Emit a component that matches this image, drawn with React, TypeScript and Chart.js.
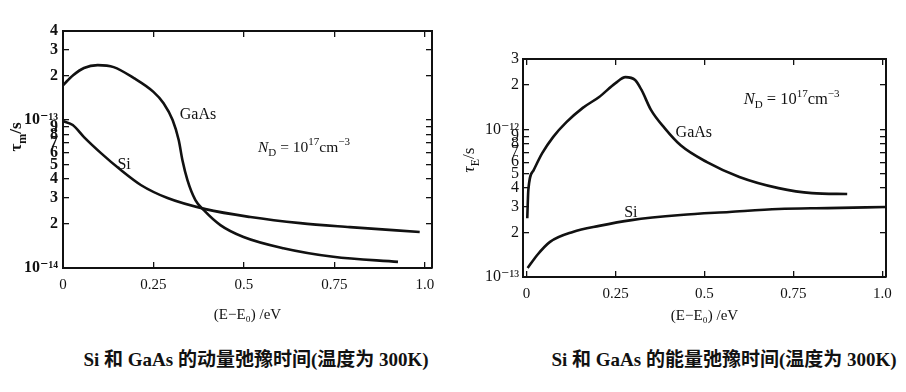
import React, { useEffect, useRef } from "react";
import { Chart, registerables } from "chart.js";
Chart.register(...registerables);

// ---------- data ----------
const energyTicks = [0, 0.25, 0.5, 0.75, 1.0];
const energyTickLabels = ["0", "0.25", "0.5", "0.75", "1.0"];

// momentum relaxation time (left)
const momGaAsE = [0, 0.028, 0.058, 0.096, 0.14, 0.196, 0.25, 0.278, 0.303, 0.32, 0.33, 0.344, 0.366, 0.39, 0.435, 0.499, 0.609, 0.747, 0.926];
const momGaAsTau = [1.72e-13, 2.01e-13, 2.25e-13, 2.35e-13, 2.28e-13, 1.92e-13, 1.55e-13, 1.3e-13, 1.0e-13, 7.3e-14, 5.37e-14, 3.93e-14, 2.88e-14, 2.45e-14, 1.95e-14, 1.62e-14, 1.36e-14, 1.19e-14, 1.1e-14];
const momSiE = [0, 0.027, 0.058, 0.105, 0.16, 0.215, 0.289, 0.394, 0.518, 0.656, 0.793, 0.986];
const momSiTau = [9.85e-14, 9.25e-14, 7.67e-14, 5.98e-14, 4.59e-14, 3.64e-14, 2.97e-14, 2.5e-14, 2.21e-14, 2.01e-14, 1.89e-14, 1.75e-14];
const momYTicks = [1e-14, 2e-14, 3e-14, 4e-14, 5e-14, 6e-14, 7e-14, 8e-14, 9e-14, 1e-13, 2e-13, 3e-13, 4e-13];
const momYTickLabels = ["10⁻¹⁴", "2", "3", "4", "5", "6", "7", "8", "9", "10⁻¹³", "2", "3", "4"];

// energy relaxation time (right)
const enGaAsE = [0.002, 0.005, 0.02, 0.044, 0.075, 0.112, 0.158, 0.204, 0.25, 0.278, 0.305, 0.323, 0.35, 0.388, 0.433, 0.507, 0.598, 0.708, 0.802, 0.901];
const enGaAsTau = [2.5e-13, 3.9e-13, 5.3e-13, 6.9e-13, 8.9e-13, 1.12e-12, 1.4e-12, 1.66e-12, 2.06e-12, 2.26e-12, 2.16e-12, 1.85e-12, 1.35e-12, 1.02e-12, 7.8e-13, 6.0e-13, 4.76e-13, 4.0e-13, 3.7e-13, 3.65e-13];
const enSiE = [0.003, 0.03, 0.066, 0.13, 0.204, 0.295, 0.433, 0.57, 0.708, 0.846, 1.008];
const enSiTau = [1.15e-13, 1.41e-13, 1.73e-13, 2.02e-13, 2.22e-13, 2.43e-13, 2.63e-13, 2.76e-13, 2.89e-13, 2.93e-13, 2.98e-13];
const enYTicks = [1e-13, 2e-13, 3e-13, 4e-13, 5e-13, 6e-13, 7e-13, 8e-13, 9e-13, 1e-12, 2e-12, 3e-12];
const enYTickLabels = ["10⁻¹³", "2", "3", "4", "5", "6", "7", "8", "9", "10⁻¹²", "2", "3"];

const captions = ["Si 和 GaAs 的动量弛豫时间(温度为 300K)", "Si 和 GaAs 的能量弛豫时间(温度为 300K)"];

// ---------- rich text helper ----------
const SERIF = '"Liberation Serif", "DejaVu Serif", serif';
type Part = { t: string; italic?: boolean; bold?: boolean; sub?: boolean; sup?: boolean };

function drawRich(ctx: CanvasRenderingContext2D, parts: Part[], x: number, y: number, size: number, align: "left" | "center") {
  const fontFor = (p: Part) => {
    const s = p.sub || p.sup ? Math.round(size * 0.68) : size;
    return `${p.italic ? "italic " : ""}${p.bold ? "bold " : ""}${s}px ${SERIF}`;
  };
  let total = 0;
  const widths = parts.map((p) => {
    ctx.font = fontFor(p);
    const w = ctx.measureText(p.t).width;
    total += w;
    return w;
  });
  let cx = align === "center" ? x - total / 2 : x;
  ctx.textBaseline = "middle";
  ctx.textAlign = "left";
  ctx.fillStyle = "#111";
  parts.forEach((p, i) => {
    ctx.font = fontFor(p);
    const dy = p.sub ? size * 0.32 : p.sup ? -size * 0.38 : 0;
    ctx.fillText(p.t, cx, y + dy);
    cx += widths[i];
  });
}

const richTextPlugin = {
  id: "richText",
  afterDatasetsDraw(chart: any, _args: any, opts: any) {
    const { ctx, scales } = chart;
    ctx.save();
    for (const a of opts.items || []) {
      const px = scales.x.getPixelForValue(a.x);
      const py = scales.y.getPixelForValue(a.y);
      drawRich(ctx, a.parts, px, py, a.size, a.align);
    }
    const t = opts.yTitle;
    if (t) {
      ctx.save();
      ctx.translate(t.cx, t.cy);
      ctx.rotate(-Math.PI / 2);
      drawRich(ctx, t.parts, 0, 0, t.size, "center");
      ctx.restore();
    }
    ctx.restore();
  },
};

function pts(xs: number[], ys: number[]) {
  return xs.map((x, i) => ({ x, y: ys[i] }));
}

type PanelCfg = {
  width: number;
  height: number;
  gaas: { x: number; y: number }[];
  si: { x: number; y: number }[];
  xMin: number;
  xMax: number;
  yMin: number;
  yMax: number;
  yTicks: number[];
  yTickLabels: string[];
  padding: { top: number; right: number };
  yWidth: number;
  xHeight: number;
  xTitlePad: number;
  yPad: number;
  yTitle: any;
  items: any[];
  yFontWeight: string;
};

function makeConfig(c: PanelCfg): any {
  const ink = "#111";
  const grid = { display: true, drawOnChartArea: false, drawTicks: true, tickLength: -6, color: ink, lineWidth: 1.3 };
  const border = { display: true, color: ink, width: 2 };
  const setX = (s: any) => {
    s.ticks = energyTicks.map((v) => ({ value: v }));
  };
  const setY = (s: any) => {
    s.ticks = c.yTicks.map((v) => ({ value: v }));
  };
  const ds = (data: any[]) => ({
    data,
    borderColor: ink,
    borderWidth: 2.6,
    pointRadius: 0,
    fill: false,
    cubicInterpolationMode: "monotone",
    xAxisID: "x",
    yAxisID: "y",
  });
  return {
    type: "line",
    data: { datasets: [ds(c.gaas), ds(c.si)] },
    options: {
      responsive: false,
      animation: false,
      devicePixelRatio: 1,
      layout: { padding: { top: c.padding.top, right: c.padding.right, left: 0, bottom: 0 } },
      plugins: {
        legend: { display: false },
        tooltip: { enabled: false },
        richText: { items: c.items, yTitle: c.yTitle },
      },
      scales: {
        x: {
          type: "linear",
          position: "bottom",
          min: c.xMin,
          max: c.xMax,
          afterBuildTicks: setX,
          afterFit: (s: any) => {
            s.height = c.xHeight;
          },
          grid,
          border,
          ticks: {
            autoSkip: false,
            maxRotation: 0,
            padding: 14,
            color: ink,
            font: { family: SERIF, size: 15 },
            callback: (v: number) => energyTickLabels[energyTicks.indexOf(v)],
          },
          title: {
            display: true,
            text: "(E−E₀) /eV",
            color: ink,
            font: { family: SERIF, size: 15 },
            padding: { top: 0, bottom: c.xTitlePad },
          },
        },
        x2: {
          type: "linear",
          position: "top",
          min: c.xMin,
          max: c.xMax,
          afterBuildTicks: setX,
          afterFit: (s: any) => {
            s.height = 0;
          },
          grid,
          border,
          ticks: { display: false },
        },
        y: {
          type: "logarithmic",
          position: "left",
          min: c.yMin,
          max: c.yMax,
          afterBuildTicks: setY,
          afterFit: (s: any) => {
            s.width = c.yWidth;
          },
          grid,
          border,
          ticks: {
            autoSkip: false,
            padding: c.yPad,
            color: ink,
            font: { family: SERIF, size: 16, weight: c.yFontWeight },
            callback: (v: number) => c.yTickLabels[c.yTicks.indexOf(v)],
          },
        },
        y2: {
          type: "logarithmic",
          position: "right",
          min: c.yMin,
          max: c.yMax,
          afterBuildTicks: setY,
          afterFit: (s: any) => {
            s.width = 0;
          },
          grid,
          border,
          ticks: { display: false },
        },
      },
    },
    plugins: [richTextPlugin],
  };
}

const ndParts: Part[] = [
  { t: "N", italic: true },
  { t: "D", sub: true },
  { t: " = 10" },
  { t: "17", sup: true },
  { t: "cm" },
  { t: "−3", sup: true },
];

const leftCfg: PanelCfg = {
  width: 450,
  height: 330,
  gaas: pts(momGaAsE, momGaAsTau),
  si: pts(momSiE, momSiTau),
  xMin: 0,
  xMax: 1.02,
  yMin: 1e-14,
  yMax: 4e-13,
  yTicks: momYTicks,
  yTickLabels: momYTickLabels,
  padding: { top: 31, right: 18 },
  yWidth: 63,
  xHeight: 62,
  xTitlePad: 6,
  yPad: 11,
  yFontWeight: "bold",
  yTitle: { cx: 17, cy: 137, size: 17, parts: [{ t: "τ", bold: true }, { t: "m", sub: true, bold: true }, { t: "/s", bold: true }] },
  items: [
    { x: 0.373, y: 1.08e-13, size: 16, align: "center", parts: [{ t: "GaAs" }] },
    { x: 0.169, y: 4.97e-14, size: 16, align: "center", parts: [{ t: "Si" }] },
    { x: 0.539, y: 6.47e-14, size: 15.5, align: "left", parts: ndParts },
  ],
};

const rightCfg: PanelCfg = {
  width: 456,
  height: 340,
  gaas: pts(enGaAsE, enGaAsTau),
  si: pts(enSiE, enSiTau),
  xMin: -0.01,
  xMax: 1.01,
  yMin: 1e-13,
  yMax: 3e-12,
  yTicks: enYTicks,
  yTickLabels: enYTickLabels,
  padding: { top: 59, right: 13 },
  yWidth: 73,
  xHeight: 63,
  xTitlePad: 15,
  yPad: 10,
  yFontWeight: "normal",
  yTitle: { cx: 20, cy: 160, size: 17, parts: [{ t: "τ", italic: true }, { t: "E", sub: true }, { t: "/s" }] },
  items: [
    { x: 0.47, y: 9.46e-13, size: 16, align: "center", parts: [{ t: "GaAs" }] },
    { x: 0.293, y: 2.71e-13, size: 16, align: "center", parts: [{ t: "Si" }] },
    { x: 0.61, y: 1.58e-12, size: 16.5, align: "left", parts: ndParts },
  ],
};

function Panel({ cfg, left, top }: { cfg: PanelCfg; left: number; top: number }) {
  const ref = useRef<HTMLCanvasElement | null>(null);
  useEffect(() => {
    if (!ref.current) return;
    const chart = new Chart(ref.current, makeConfig(cfg));
    return () => chart.destroy();
  }, [cfg]);
  return (
    <canvas
      ref={ref}
      width={cfg.width}
      height={cfg.height}
      style={{ position: "absolute", left, top, width: cfg.width, height: cfg.height }}
    />
  );
}

export default function App() {
  const capStyle: React.CSSProperties = {
    position: "absolute",
    top: 348,
    fontFamily: '"Liberation Serif", "Noto Sans CJK SC", serif',
    fontWeight: "bold",
    fontSize: 19,
    lineHeight: "24px",
    color: "#111",
    whiteSpace: "nowrap",
    textAlign: "center",
    width: 440,
  };
  return (
    <div style={{ position: "fixed", left: 0, top: 0, width: 906, height: 392, background: "#fff", overflow: "hidden" }}>
      <Panel cfg={leftCfg} left={0} top={0} />
      <Panel cfg={rightCfg} left={450} top={0} />
      <div style={{ ...capStyle, left: 256 - 220 }}>{captions[0]}</div>
      <div style={{ ...capStyle, left: 724 - 220 }}>{captions[1]}</div>
    </div>
  );
}
